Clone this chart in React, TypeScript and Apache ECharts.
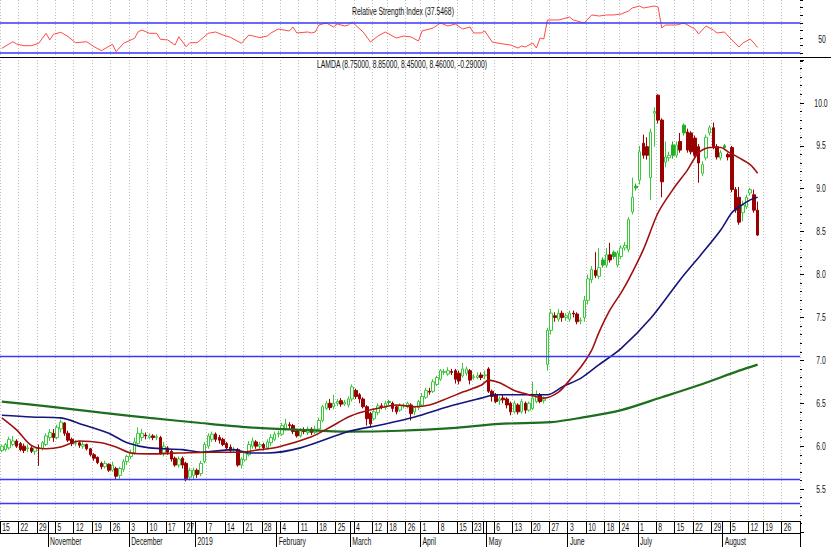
import React, { useEffect, useRef } from "react";
import * as echarts from "echarts";

// ---- trading days (categories) ----
const oct18 = [15,16,17,18,19,22,23,24,25,26,29,30,31];
const nov18 = [1,2,5,6,7,8,9,12,13,14,15,16,19,20,21,22,23,26,27,28,29,30];
const dec18 = [3,4,5,6,7,10,11,12,13,14,17,18,19,20,21,27,28,31];
const jan19 = [2,3,4,7,8,9,10,11,14,15,16,17,18,21,22,23,24,25,28,29,30,31];
const feb19 = [1,4,5,6,7,8,11,12,13,14,15,18,19,20,21,22,25,26,27,28];
const mar19 = [1,4,5,6,7,8,12,13,14,15,18,19,20,21,22,26,27,28,29];
const apr19 = [1,2,3,4,5,8,9,10,11,12,15,16,17,18,23,24,25,30];
const may19 = [2,3,6,7,8,9,10,13,14,15,16,17,20,21,22,23,24,27,28,29,30,31];
const jun19 = [3,4,5,6,7,10,11,12,13,14,18,19,20,21,24,25,26,27,28];
const jul19 = [1,2,3,4,5,8,9,10,11,12,15,16,17,18,19,22,23,24,25,26,29,30,31];
const aug19 = [1,2,5,6,7,8,9,12,13,14,16,19,20,21,22,23,26,27,28,29,30];

const monthNames = ["2019","February","March","April","May","June","July","August","September","October","November","December"];
const priceTickLabels = [5.5, 6.0, 6.5, 7.0, 7.5, 8.0, 8.5, 9.0, 9.5, 10.0];
const rsiTickLabels = [50];

// ---- candles [open, close, low, high] ----
const cOct = [
[5.95,6.00,5.93,6.02],[5.96,6.02,5.94,6.04],[5.98,6.08,5.96,6.11],[6.02,6.06,6.00,6.12],[6.06,6.00,5.98,6.08],
[6.03,5.96,5.94,6.05],[6.00,5.95,5.92,6.03],[5.97,5.98,5.93,6.02],[5.98,5.94,5.92,6.00],[5.94,5.98,5.90,6.00],
[5.98,5.97,5.77,6.02],[5.97,6.04,5.95,6.06],[6.02,6.12,6.00,6.15]];
const cNov = [
[6.10,6.16,6.06,6.20],[6.15,6.10,6.05,6.20],[6.10,6.22,6.08,6.25],[6.20,6.28,6.16,6.31],[6.27,6.15,6.12,6.28],
[6.15,6.07,6.05,6.18],[6.08,6.03,6.00,6.10],[6.03,6.04,6.00,6.07],[6.04,6.01,5.98,6.06],[6.00,6.02,5.97,6.05],
[6.02,5.97,5.95,6.03],[5.97,5.90,5.88,5.98],[5.90,5.86,5.83,5.92],[5.87,5.81,5.79,5.88],[5.80,5.76,5.73,5.82],
[5.76,5.80,5.74,5.83],[5.79,5.72,5.70,5.80],[5.72,5.78,5.70,5.82],[5.74,5.65,5.61,5.76],[5.66,5.74,5.62,5.76],
[5.73,5.82,5.70,5.85],[5.82,5.88,5.78,5.90]];
const cDec = [
[5.88,5.92,5.85,5.96],[5.92,6.05,5.90,6.10],[6.03,6.15,6.00,6.22],[6.10,6.15,6.06,6.20],[6.13,6.12,6.08,6.16],
[6.10,6.12,6.08,6.15],[6.12,6.10,6.07,6.14],[6.10,6.11,6.07,6.14],[6.10,5.92,5.90,6.12],[5.92,6.00,5.88,6.05],
[5.98,5.93,5.90,6.00],[5.94,5.85,5.82,5.96],[5.86,5.78,5.76,5.88],[5.78,5.85,5.75,5.88],[5.86,5.78,5.74,5.88],
[5.80,5.62,5.59,5.82],[5.64,5.72,5.60,5.75],[5.66,5.72,5.62,5.75]];
const cJan = [
[5.72,5.67,5.63,5.74],[5.68,5.80,5.65,5.83],[5.82,6.02,5.80,6.05],[6.00,6.12,5.97,6.15],[6.08,6.14,6.05,6.17],
[6.14,6.08,6.05,6.16],[6.10,6.07,6.03,6.13],[6.08,6.02,6.00,6.10],[6.03,5.98,5.96,6.05],[5.99,5.95,5.93,6.02],
[5.95,5.96,5.92,5.99],[5.96,5.78,5.76,5.98],[5.78,5.85,5.74,5.87],[5.84,5.92,5.82,5.94],[5.90,6.02,5.88,6.06],
[6.00,6.06,5.97,6.10],[6.05,6.00,5.97,6.07],[6.00,6.02,5.97,6.05],[6.02,5.98,5.95,6.04],[5.98,6.05,5.96,6.08],
[6.04,6.10,6.00,6.14],[6.08,6.14,6.06,6.17]];
const cFeb = [
[6.14,6.15,6.10,6.18],[6.14,6.24,6.12,6.27],[6.20,6.26,6.18,6.32],[6.25,6.24,6.20,6.28],[6.24,6.17,6.14,6.26],
[6.18,6.12,6.10,6.20],[6.12,6.18,6.10,6.21],[6.18,6.17,6.14,6.22],[6.16,6.20,6.13,6.23],[6.20,6.16,6.13,6.22],
[6.16,6.20,6.14,6.24],[6.20,6.30,6.18,6.33],[6.30,6.46,6.28,6.48],[6.44,6.50,6.42,6.53],[6.50,6.45,6.42,6.55],
[6.46,6.50,6.43,6.60],[6.50,6.52,6.47,6.55],[6.53,6.49,6.46,6.56],[6.49,6.51,6.47,6.54],[6.48,6.55,6.45,6.58]];
const cMar = [
[6.55,6.69,6.52,6.72],[6.65,6.58,6.55,6.67],[6.60,6.55,6.50,6.62],[6.55,6.46,6.44,6.57],[6.46,6.32,6.24,6.48],
[6.38,6.26,6.22,6.40],[6.32,6.40,6.30,6.44],[6.39,6.47,6.36,6.50],[6.47,6.46,6.43,6.50],[6.45,6.50,6.42,6.53],
[6.52,6.51,6.48,6.54],[6.50,6.44,6.40,6.52],[6.46,6.40,6.37,6.48],[6.42,6.48,6.40,6.50],[6.47,6.48,6.44,6.50],
[6.46,6.50,6.44,6.52],[6.48,6.38,6.30,6.50],[6.40,6.45,6.36,6.47],[6.45,6.52,6.42,6.54]];
const cApr = [
[6.48,6.58,6.46,6.62],[6.57,6.65,6.55,6.68],[6.64,6.63,6.60,6.68],[6.64,6.75,6.62,6.78],[6.72,6.80,6.70,6.82],
[6.78,6.88,6.76,6.90],[6.86,6.87,6.83,6.90],[6.84,6.88,6.82,6.92],[6.87,6.86,6.83,6.90],[6.88,6.78,6.73,6.90],
[6.85,6.76,6.72,6.88],[6.82,6.90,6.80,6.97],[6.85,6.90,6.82,6.93],[6.88,6.77,6.72,6.90],[6.80,6.81,6.77,6.84],
[6.80,6.82,6.78,6.86],[6.83,6.80,6.77,6.86],[6.82,6.83,6.78,6.88]];
const cMay = [
[6.90,6.64,6.62,6.92],[6.64,6.58,6.52,6.66],[6.60,6.52,6.50,6.62],[6.53,6.55,6.48,6.58],[6.56,6.54,6.50,6.60],
[6.55,6.48,6.44,6.57],[6.50,6.40,6.36,6.52],[6.40,6.50,6.38,6.53],[6.48,6.40,6.37,6.50],[6.40,6.52,6.38,6.55],
[6.50,6.42,6.38,6.52],[6.42,6.50,6.40,6.52],[6.44,6.56,6.42,6.75],[6.52,6.60,6.50,6.65],[6.60,6.52,6.50,6.62],
[6.53,6.55,6.50,6.58],[6.95,7.35,6.88,7.38],[7.35,7.55,7.30,7.60],[7.52,7.50,7.45,7.56],[7.48,7.55,7.45,7.60],
[7.55,7.50,7.45,7.58],[7.50,7.52,7.46,7.55]];
const cJun = [
[7.48,7.55,7.45,7.58],[7.55,7.54,7.50,7.58],[7.54,7.45,7.42,7.56],[7.46,7.47,7.42,7.50],[7.50,7.70,7.45,7.75],
[7.70,7.95,7.65,8.00],[7.94,8.06,7.90,8.10],[8.05,7.99,7.96,8.26],[7.98,8.08,7.95,8.31],[8.17,8.11,8.08,8.20],
[8.11,8.23,8.08,8.31],[8.23,8.17,8.14,8.37],[8.26,8.21,8.18,8.28],[8.11,8.25,8.08,8.28],[8.21,8.31,8.18,8.34],
[8.31,8.34,8.28,8.38],[8.29,8.64,8.26,8.67],[8.73,8.90,8.70,9.13],[9.03,9.01,8.98,9.06]];
const cJul = [
[9.10,9.43,9.05,9.50],[9.53,9.39,9.35,9.63],[9.49,9.39,9.34,9.60],[9.13,9.66,8.87,9.70],[9.88,9.90,9.49,9.95],
[10.09,9.80,9.76,10.10],[9.80,9.08,8.90,9.82],[9.31,9.37,9.25,9.55],[9.36,9.39,9.32,9.43],[9.51,9.39,9.35,9.55],
[9.39,9.51,9.36,9.55],[9.55,9.45,9.42,9.65],[9.74,9.65,9.62,9.76],[9.66,9.45,9.42,9.70],[9.65,9.43,9.40,9.67],
[9.59,9.39,9.36,9.62],[9.49,9.30,9.07,9.52],[9.18,9.28,9.15,9.32],[9.36,9.60,9.33,9.63],[9.65,9.71,9.62,9.74],
[9.71,9.49,9.46,9.77],[9.49,9.37,9.34,9.52],[9.36,9.42,9.33,9.45]];
const cAug = [
[9.50,9.48,9.45,9.52],[9.40,9.37,9.33,9.42],[9.48,8.99,8.96,9.50],[8.99,8.75,8.72,9.02],[8.90,8.61,8.58,9.02],
[8.72,8.81,8.62,8.86],[8.79,8.90,8.76,8.93],[8.95,8.99,8.92,9.01],[8.93,8.75,8.72,8.99],[8.75,8.46,8.45,8.85]];

// candles that close below open but above the previous close (drawn filled green)
const greenFilled = [105, 163, 166, 172, 182, 185, 196];

// ---- moving averages [dayIndex, value] ----
const maRed = [[0,6.33],[4,6.19],[8,6.01],[12,5.97],[16,5.99],[21,6.06],[27,6.04],[31,5.99],[35,5.92],[40,5.91],
[48,5.92],[56,5.93],[65,5.93],[70,5.96],[75,5.99],[84,6.11],[89,6.22],[94,6.34],[98,6.40],[103,6.45],[107,6.48],
[112,6.46],[116,6.48],[121,6.56],[125,6.63],[130,6.71],[132,6.77],[135,6.74],[139,6.65],[143,6.60],[147,6.56],
[151,6.63],[154,6.77],[157,6.92],[160,7.12],[162,7.33],[165,7.59],[168,7.79],[170,7.94],[174,8.29],[178,8.72],
[182,8.99],[186,9.22],[189,9.42],[192,9.48],[195,9.48],[197,9.43],[200,9.36],[203,9.28],[205,9.18]];
const maBlue = [[0,6.36],[8,6.34],[16,6.33],[22,6.25],[29,6.15],[34,6.04],[40,5.98],[49,5.96],[54,5.93],[63,5.96],
[67,5.92],[72,5.92],[81,5.98],[94,6.17],[103,6.25],[112,6.34],[121,6.46],[130,6.56],[134,6.60],[143,6.60],
[148,6.60],[152,6.69],[157,6.79],[162,6.95],[168,7.14],[176,7.49],[184,7.94],[190,8.25],[195,8.52],[198,8.72],
[200,8.79],[203,8.87],[205,8.90]];
const maGreen = [[0,6.52],[13,6.46],[27,6.39],[40,6.33],[54,6.27],[67,6.22],[81,6.19],[94,6.17],[108,6.18],
[122,6.21],[135,6.26],[149,6.28],[157,6.33],[168,6.42],[179,6.57],[189,6.71],[200,6.88],[205,6.95]];

// ---- RSI [dayIndex, value] ----
const rsi = [[0,36.4],[3,45.1],[4,42.1],[6,39.9],[8,39.9],[10,43.0],[12,56.2],[13,47.4],[14,54.9],[16,57.5],
[18,51.7],[20,43.8],[23,45.1],[25,38.6],[27,33.3],[30,41.7],[31,32.0],[33,43.0],[36,49.6],[37,58.3],[38,60.5],
[40,56.2],[42,56.2],[43,48.3],[45,47.4],[47,40.8],[48,51.7],[50,38.6],[51,43.8],[53,43.8],[56,56.2],[58,57.9],
[60,53.9],[62,50.9],[65,43.0],[67,53.9],[69,51.7],[70,50.4],[72,52.6],[73,56.6],[75,61.8],[78,59.2],[79,64.5],
[80,56.6],[83,57.9],[84,56.6],[85,57.9],[86,67.1],[88,69.7],[90,64.5],[91,68.4],[93,65.8],[94,67.1],[95,71.1],
[98,57.9],[100,44.7],[102,52.6],[104,57.9],[107,50.0],[109,52.6],[111,51.3],[113,46.1],[114,59.2],[117,63.2],
[119,69.7],[121,65.8],[123,68.4],[125,61.8],[127,64.5],[128,56.6],[130,56.6],[131,59.2],[133,44.7],[136,42.1],
[138,40.8],[140,36.8],[141,39.5],[142,38.2],[144,43.4],[145,36.8],[146,50.0],[147,48.7],[148,73.7],[151,73.7],
[154,77.6],[155,73.7],[158,69.7],[160,80.3],[162,78.9],[164,80.3],[166,80.3],[168,81.6],[170,85.5],[171,89.5],
[173,92.1],[174,89.5],[177,92.1],[178,90.8],[179,63.2],[180,67.1],[183,67.1],[185,69.7],[187,64.5],[188,61.8],
[189,55.3],[191,65.8],[193,60.5],[194,56.6],[196,57.9],[198,47.4],[200,38.2],[201,43.4],[203,48.7],[204,43.4],
[205,37.5468]];

const levelLines = [7.05, 5.62, 5.34];
const rsiLevels = [70, 30];
const rsiTitle = "Relative Strength Index (37.5468)";
const priceTitle = "LAMDA (8.75000, 8.85000, 8.45000, 8.46000, -0.29000)";

const FONT = '"Liberation Sans", Arial, sans-serif';
const SQ = 0.62; // horizontal squeeze of the narrow chart font

export default function App() {
  const ref = useRef<HTMLDivElement>(null);
  useEffect(() => {
    if (!ref.current) return;
    const chart = echarts.init(ref.current, undefined, { renderer: "svg" });

    const months: [number, number, number[]][] = [
      [2018, 10, oct18], [2018, 11, nov18], [2018, 12, dec18], [2019, 1, jan19], [2019, 2, feb19],
      [2019, 3, mar19], [2019, 4, apr19], [2019, 5, may19], [2019, 6, jun19], [2019, 7, jul19], [2019, 8, aug19],
    ];
    const dates: string[] = [];
    const ts: number[] = [];
    months.forEach(([y, m, days]) => days.forEach((d) => {
      dates.push(`${y}-${String(m).padStart(2, "0")}-${String(d).padStart(2, "0")}`);
      ts.push(Date.UTC(y, m - 1, d));
    }));
    const n = dates.length;
    const weekStart: boolean[] = [];
    const monthStart: boolean[] = [];
    for (let i = 0; i < n; i++) {
      if (i === 0) { weekStart.push(true); monthStart.push(false); continue; }
      const a = new Date(ts[i - 1]), b = new Date(ts[i]);
      const diff = (ts[i] - ts[i - 1]) / 86400000;
      weekStart.push(b.getUTCDay() <= a.getUTCDay() || diff >= 7);
      monthStart.push(b.getUTCMonth() !== a.getUTCMonth());
    }
    const hideWeek = weekStart.map((w, i) => w && !monthStart[i] && (monthStart[i + 1] || monthStart[i + 2]));

    const allCandles = [...cOct, ...cNov, ...cDec, ...cJan, ...cFeb, ...cMar, ...cApr, ...cMay, ...cJun, ...cJul, ...cAug];
    const candleData = allCandles.map((c, i) =>
      greenFilled.includes(i)
        ? { value: c, itemStyle: { color0: "#22b022", borderColor0: "#22b022" } }
        : c
    );

    const dotted = {
      show: true,
      interval: (i: number) => weekStart[i],
      lineStyle: { color: "#bdbdbd", type: [1, 2] as any, width: 1 },
    };
    const hiddenCat = (gridIndex: number) => ({
      gridIndex, type: "category", data: dates, boundaryGap: true,
      axisLine: { show: false }, axisTick: { show: false }, axisLabel: { show: false },
      splitLine: dotted,
    });

    const option: any = {
      animation: false,
      backgroundColor: "#ffffff",
      grid: [
        { left: 0, right: 31, top: 0, height: 60.8 },
        { left: 0, right: 31, top: 60, height: 472 },
        { left: 0, right: 31, top: 520, height: 1 },
      ],
      xAxis: [
        hiddenCat(0),
        hiddenCat(1),
        {
          gridIndex: 2, type: "category", data: dates, boundaryGap: true, position: "bottom",
          axisLine: { show: true, lineStyle: { color: "#000", width: 1 } },
          axisTick: { show: true, interval: (i: number) => weekStart[i] || monthStart[i], length: 12, lineStyle: { color: "#000" } },
          axisLabel: { show: false },
          splitLine: { show: false },
        },
        {
          gridIndex: 2, type: "category", data: dates, boundaryGap: true, position: "bottom", offset: 12,
          axisLine: { show: true, lineStyle: { color: "#000", width: 1 } },
          axisTick: { show: true, interval: (i: number) => monthStart[i], length: 14, lineStyle: { color: "#000" } },
          axisLabel: { show: false },
          splitLine: { show: false },
        },
      ],
      yAxis: [
        {
          gridIndex: 0, type: "value", position: "right", min: 20, max: 100, interval: 10,
          axisLine: { show: false },
          axisTick: { show: true, length: 3, lineStyle: { color: "#000" } },
          axisLabel: { show: false },
          splitLine: { show: false },
        },
        {
          gridIndex: 1, type: "value", position: "right", min: 5, max: 10.5, interval: 0.5,
          axisLine: { show: false },
          axisTick: { show: true, length: 4, lineStyle: { color: "#000" } },
          minorTick: { show: true, splitNumber: 5, length: 2, lineStyle: { color: "#000" } },
          axisLabel: { show: false },
          splitLine: { show: false },
          minorSplitLine: { show: false },
        },
        { gridIndex: 2, type: "value", show: false },
      ],
      series: [
        {
          type: "line", xAxisIndex: 0, yAxisIndex: 0, data: rsi, symbol: "none",
          lineStyle: { color: "#ff4a4a", width: 1 },
          markLine: {
            silent: true, symbol: ["none", "none"], label: { show: false },
            lineStyle: { color: "#3636ff", width: 1.5, type: "solid" },
            data: rsiLevels.map((v) => ({ yAxis: v })),
          },
        },
        {
          type: "candlestick", xAxisIndex: 1, yAxisIndex: 1, data: candleData, barWidth: 3,
          itemStyle: { color: "#ffffff", color0: "#990000", borderColor: "#3cc83c", borderColor0: "#990000", borderWidth: 1 },
          markLine: {
            silent: true, symbol: ["none", "none"], label: { show: false },
            lineStyle: { color: "#3636ff", width: 1.3, type: "solid" },
            data: levelLines.map((v) => ({ yAxis: v })),
          },
        },
        { type: "line", xAxisIndex: 1, yAxisIndex: 1, data: maGreen, symbol: "none", smooth: 0.3, lineStyle: { color: "#1d6e1d", width: 2.2 } },
        { type: "line", xAxisIndex: 1, yAxisIndex: 1, data: maBlue, symbol: "none", smooth: 0.3, lineStyle: { color: "#14147a", width: 1.6 } },
        { type: "line", xAxisIndex: 1, yAxisIndex: 1, data: maRed, symbol: "none", smooth: 0.3, lineStyle: { color: "#a01010", width: 1.6 } },
      ],
    };
    chart.setOption(option);

    // axis labels in the chart's narrow font, positioned through the axes' own scales
    const txt = (text: string, x: number, y: number, align: string) => ({
      type: "text", x, y, scaleX: SQ, z: 100, silent: true,
      style: { text, font: `11px ${FONT}`, fill: "#111", align, verticalAlign: "middle" },
    });
    const g: any[] = [
      { type: "line", shape: { x1: 0, y1: 57.5, x2: 831, y2: 57.5 }, style: { stroke: "#000", lineWidth: 1 }, z: 100, silent: true },
      txt(rsiTitle, 403, 11, "center"),
      txt(priceTitle, 402, 64, "center"),
    ];
    for (let i = 0; i < n; i++) {
      const cx = chart.convertToPixel({ xAxisIndex: 2 }, i) as number;
      if (weekStart[i] && !hideWeek[i]) g.push(txt(String(Number(dates[i].slice(8))), cx + 0.3, 527.5, "left"));
      if (monthStart[i]) g.push(txt(monthNames[Number(dates[i].slice(5, 7)) - 1], cx + 0.3, 541, "left"));
    }
    priceTickLabels.forEach((v) => {
      const y = chart.convertToPixel({ yAxisIndex: 1 }, v) as number;
      g.push(txt(v.toFixed(1), 821, y, "center"));
    });
    rsiTickLabels.forEach((v) => {
      const y = chart.convertToPixel({ yAxisIndex: 0 }, v) as number;
      g.push(txt(String(v), 822, y + 1.5, "center"));
    });
    chart.setOption({ graphic: g });

    return () => chart.dispose();
  }, []);
  return <div ref={ref} style={{ position: "fixed", left: 0, top: 0, width: 831, height: 548, background: "#fff" }} />;
}
